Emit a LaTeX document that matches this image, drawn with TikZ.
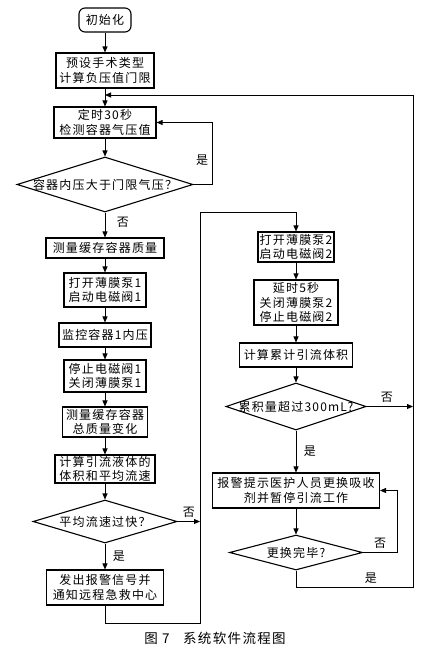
\documentclass[tikz,border=0pt]{standalone}
\usepackage{fontspec}
\setmainfont{Noto Sans CJK SC}[LetterSpace=10]
\usetikzlibrary{shapes.geometric,arrows.meta}

\begin{document}
\begin{tikzpicture}[x=1pt,y=-1pt,line width=0.9pt,font=\fontsize{12}{14.5}\selectfont,
    stepbox/.style={draw,rectangle,line width=1.1pt,inner sep=0pt,align=center},
    decision/.style={draw,diamond,line width=1.1pt,inner sep=0pt},
    arr/.style={-{Triangle[length=6pt,width=5pt]}}]

  \useasboundingbox (0,0) rectangle (440,652);

  \begin{scope}[every node/.style={stepbox}]
    % left column
    \node[rounded corners=6pt,minimum width=52pt,minimum height=24pt] (1) at (105,20) {初始化};
    \node[minimum width=98pt,minimum height=35pt]  (2)  at (105,70.5)  {预设手术类型\\计算负压值门限};
    \node[minimum width=102pt,minimum height=31pt] (3)  at (105,122.5) {定时30秒\\检测容器气压值};
    \node[minimum width=118pt,minimum height=20pt] (5)  at (105,248)   {测量缓存容器质量};
    \node[minimum width=82pt,minimum height=34pt]  (6)  at (105,290)   {打开薄膜泵1\\启动电磁阀1};
    \node[minimum width=92pt,minimum height=24pt]  (7)  at (105,335)   {监控容器1内压};
    \node[minimum width=82pt,minimum height=32pt]  (8)  at (105,376)   {停止电磁阀1\\关闭薄膜泵1};
    \node[minimum width=85pt,minimum height=30pt]  (9)  at (105,422)   {测量缓存容器\\总质量变化};
    \node[minimum width=100pt,minimum height=28pt] (10) at (105,469)   {计算引流液体的\\体积和平均流速};
    \node[minimum width=117pt,minimum height=35pt] (12) at (105,587.5) {发出报警信号并\\通知远程急救中心};
    % right column
    \node[minimum width=76pt,minimum height=30pt]  (13) at (296,247)   {打开薄膜泵2\\启动电磁阀2};
    \node[minimum width=84pt,minimum height=45pt]  (14) at (296,302.5) {延时5秒\\关闭薄膜泵2\\停止电磁阀2};
    \node[minimum width=113pt,minimum height=24pt] (15) at (296,355)   {计算累计引流体积};
    \node[minimum width=167pt,minimum height=35pt] (17) at (296,490.5) {报警提示医护人员更换吸收\\剂并暂停引流工作};
  \end{scope}

  % decisions
  \node[decision,minimum width=176pt,minimum height=55pt,label=center:{容器内压大于门限气压？}] (4)  at (105,184.5) {};
  \node[decision,minimum width=144pt,minimum height=43pt,label=center:{平均流速过快？}]       (11) at (105,521.5) {};
  \node[decision,minimum width=140pt,minimum height=47pt,label=center:{累积量超过300mL?}]   (16) at (296,406.5) {};
  \node[decision,minimum width=133pt,minimum height=35pt,label=center:{更换完毕?}]          (18) at (296,552.5) {};

  % bends
  \coordinate (a1) at (212,184.5);
  \coordinate (a2) at (200,521.5);
  \coordinate (b2) at (200,623);
  \coordinate (b3) at (200,212);
  \coordinate (c1) at (413,406.5);
  \coordinate (c2) at (397,552.5);
  \coordinate (d2) at (413,587);
  \coordinate (d4) at (105,95);

  \begin{scope}[every edge/.style={draw,arr}]
    \path (1)  edge (2);
    \path (2)  edge (3);
    \path (3)  edge (4);
    \path (4)  edge node[right=8pt,pos=0.4] {否} (5);
    \path (5)  edge (6);
    \path (6)  edge (7);
    \path (7)  edge (8);
    \path (8)  edge (9);
    \path (9)  edge (10);
    \path (10) edge (11);
    \path (11) edge node[right=4pt] {是} (12);
    \path (13) edge (14);
    \path (14) edge (15);
    \path (15) edge (16);
    \path (16) edge node[right=4pt] {是} (17);
    \path (17) edge (18);
    \path (11.east) edge node[above] {否} (a2);
    \path (16.east) edge node[above,xshift=-3pt] {否} (c1);
  \end{scope}

  \draw[arr] (4.east) -- (a1) |- node[pos=0.2,left] {是} (3.east);
  \draw[arr] (12.south) |- (b2) -- (b3) -| (13.north);
  \draw[arr] (18.east) -- node[above] {否} (c2) |- (17.east);
  \draw[arr] (18.south) |- node[pos=0.82,above] {是} (d2) |- (d4);

  \node (cap) at (215,638) {\fontsize{13.5}{16}\selectfont 图~7\quad 系统软件流程图};

\end{tikzpicture}
\end{document}
